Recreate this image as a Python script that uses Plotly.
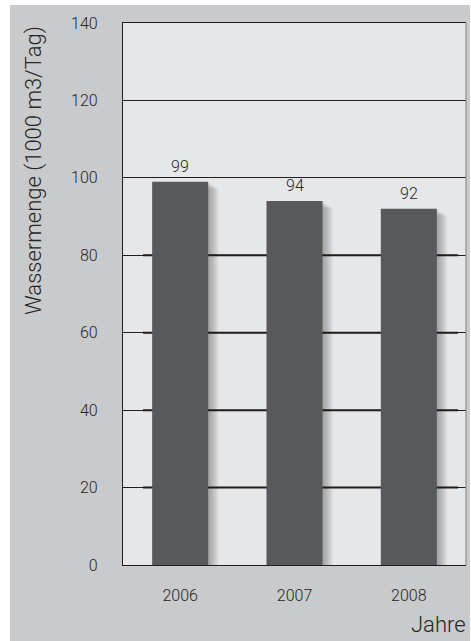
import plotly.graph_objects as go

# Daily water volume per year (thousand m3 per day)
years = ["2006", "2007", "2008"]
volumes = [99, 94, 92]
y_ticks = [0, 20, 40, 60, 80, 100, 120, 140]
y_title = "Wassermenge (1000 m3/Tag)"
x_title = "Jahre"

FONT = "Roboto, Arial, sans-serif"
WEIGHT = 300
PANEL = "#c9cacb"
PLOT_BG = "#e6e7e8"
BAR = "#58595b"
INK = "#262626"

W, H = 471, 641
L, R, T, B = 123, 5, 23, 76
pw, ph = W - L - R, H - T - B

def px_x(px):
    return (px - L) / pw

def px_y(py):
    return (H - B - py) / ph

def font(size):
    return dict(family=FONT, size=size, weight=WEIGHT, color=INK)

BAR_W = 0.49

fig = go.Figure()

# soft drop shadow behind each bar, built from a few translucent layers
for k in range(1, 6):
    fig.add_trace(go.Bar(
        x=years,
        y=[v - 0.35 * k + 0.55 * k for v in volumes],
        base=[-0.55 * k] * len(volumes),
        width=BAR_W - 0.02 + k * 0.0175,
        offset=-BAR_W / 2 + 0.02,
        marker=dict(color="rgba(30,30,30,0.07)", line=dict(width=0)),
        cliponaxis=False,
        hoverinfo="skip",
        showlegend=False,
    ))

fig.add_trace(go.Bar(
    x=years,
    y=volumes,
    width=BAR_W,
    offset=-BAR_W / 2,
    marker=dict(color=BAR, line=dict(width=0)),
    showlegend=False,
))

shapes = [
    # grey backdrop panel
    dict(type="rect", xref="paper", yref="paper", layer="below",
         x0=px_x(10), x1=px_x(470), y0=px_y(H + 2), y1=px_y(5),
         fillcolor=PANEL, line=dict(width=0)),
    # light plotting field
    dict(type="rect", xref="paper", yref="paper", layer="below",
         x0=0, x1=1, y0=0, y1=1,
         fillcolor=PLOT_BG, line=dict(width=0)),
    # right frame edge
    dict(type="line", xref="paper", yref="paper", layer="above",
         x0=1, x1=1, y0=0, y1=1, line=dict(color="#8c8d8f", width=1.2)),
]
# heavier inner segments on the lower grid lines
for t in y_ticks[1:5]:
    shapes.append(dict(type="line", xref="paper", yref="y", layer="below",
                       x0=px_x(143), x1=px_x(458), y0=t, y1=t,
                       line=dict(color="#1a1a1a", width=2)))

annotations = [
    dict(text=y_title, xref="paper", yref="paper", x=px_x(34), y=px_y(171),
         textangle=-90, showarrow=False, xanchor="center", yanchor="middle",
         font=font(22)),
    dict(text=x_title, xref="paper", yref="paper", x=px_x(468), y=px_y(624),
         showarrow=False, xanchor="right", yanchor="middle",
         font=font(22)),
]
# value labels above the bars (category index positions)
for i, v in enumerate(volumes):
    annotations.append(dict(text=str(v), x=i, y=v, xref="x", yref="y",
                            showarrow=False, yanchor="bottom", yshift=4,
                            font=font(16)))

fig.update_layout(
    width=W, height=H,
    margin=dict(l=L, r=R, t=T, b=B, pad=0),
    paper_bgcolor="white",
    plot_bgcolor=PLOT_BG,
    barmode="overlay",
    showlegend=False,
    font=font(16),
    shapes=shapes,
    annotations=annotations,
    xaxis=dict(
        type="category",
        range=[-0.5, 2.5],
        showgrid=False,
        showline=True, linecolor="#1e1e1e", linewidth=1.2, mirror=True,
        ticks="", ticklabelstandoff=16,
        tickfont=font(16),
        fixedrange=True,
    ),
    yaxis=dict(
        range=[0, 140],
        tickvals=y_ticks,
        showgrid=True, gridcolor="#1e1e1e", gridwidth=1,
        zeroline=False,
        showline=True, linecolor="#1e1e1e", linewidth=1.2,
        ticks="", ticklabelstandoff=21,
        tickfont=font(16),
        fixedrange=True,
    ),
)

fig.write_html("out.html")
